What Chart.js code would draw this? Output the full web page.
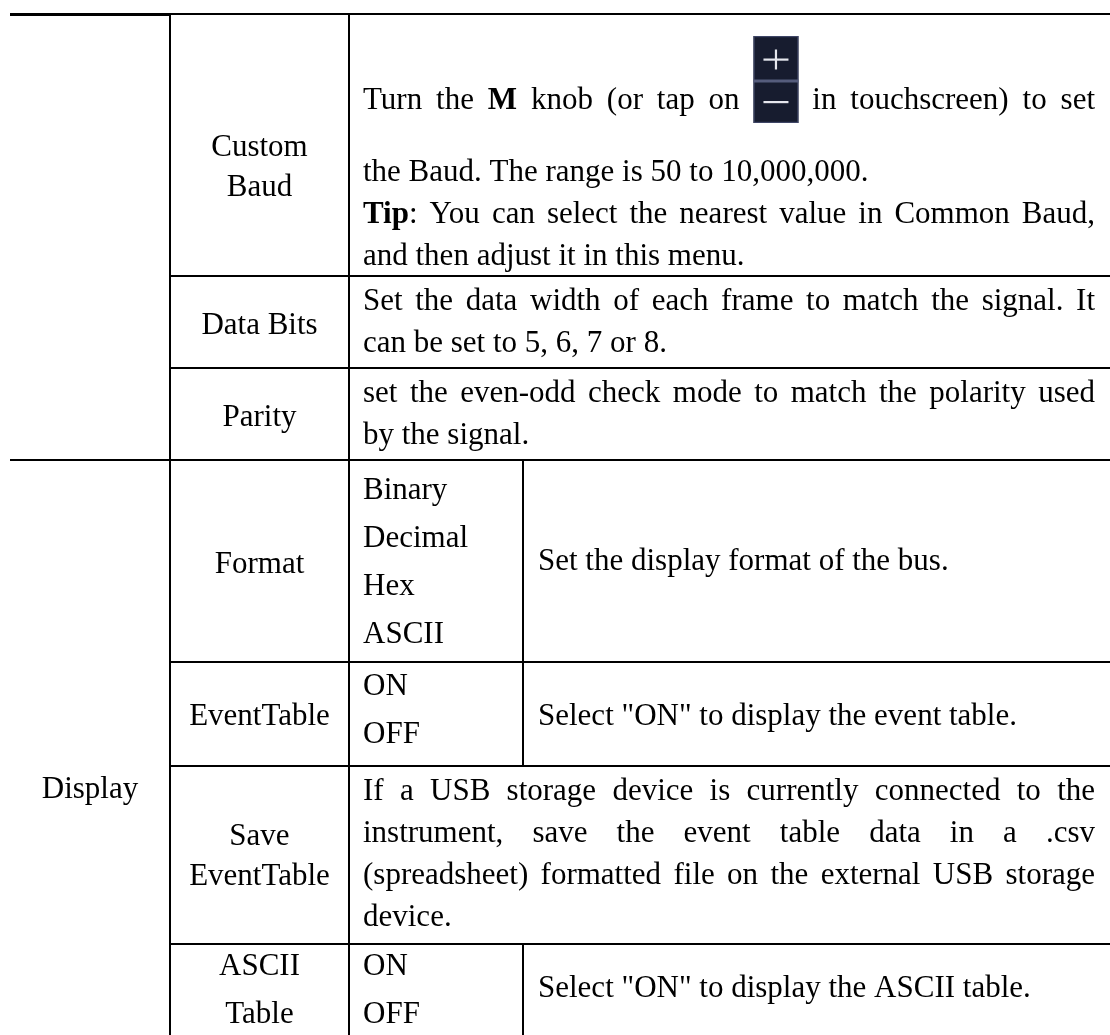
<!DOCTYPE html>
<html><head><meta charset="utf-8">
<script src="https://cdn.jsdelivr.net/npm/chart.js@4.4.1/dist/chart.umd.min.js"></script>
<style>html,body{margin:0;padding:0;background:#fff;overflow:hidden}</style>
</head><body>
<canvas id="c" width="1110" height="1035"></canvas>
<script>
// ---------- content ----------
const sectionLabels = ['Display'];
const menuLabels = [['Custom','Baud'], ['Data Bits'], ['Parity'], ['Format'], ['EventTable'], ['Save','EventTable'], ['ASCII','Table']];
const optionLists = [null, null, null, ['Binary','Decimal','Hex','ASCII'], ['ON','OFF'], null, ['ON','OFF']];
const descriptions = [
  ['Turn the **M** knob (or tap on [+-] in touchscreen) to set', 'the Baud. The range is 50 to 10,000,000.', '**Tip**: You can select the nearest value in Common Baud,', 'and then adjust it in this menu.'],
  ['Set the data width of each frame to match the signal. It', 'can be set to 5, 6, 7 or 8.'],
  ['set the even-odd check mode to match the polarity used', 'by the signal.'],
  ['Set the display format of the bus.'],
  ['Select "ON" to display the event table.'],
  ['If a USB storage device is currently connected to the', 'instrument, save the event table data in a .csv', '(spreadsheet) formatted file on the external USB storage', 'device.'],
  ['Select "ON" to display the ASCII table.']
];

// ---------- layout ----------
const W = 1110, H = 1035;
const colX = [10, 170, 349, 523, 1110];
const rowLines = [276, 368, 460, 662, 766, 944];
const topY = 14;
const justified = [[1,0,1,0],[1,0],[1,0],[0],[0],[1,1,1,0],[0]];
const descBase = [[109,181,223,265],[310,352],[402,444],[570],[725],[800,842,884,926],[997]];
const labelBase = [[156,196],[334],[426],[573],[725],[845,885],[975,1023]];
const optBase = [null,null,null,[499,547,595,643],[695,743],null,[975,1023]];
const sectionBase = [798];
const textL = 363, textR = 1095, descL4 = 538;
const ICON = {w:45, top:36, bottom:123, split:81};
const FONT = '"Liberation Serif", "Times New Roman", serif';
const SIZE = 31;

function font(b){ return (b ? 'bold ' : '') + SIZE + 'px ' + FONT; }
function parseWord(w){
  if (w === '[+-]') return {icon:true};
  const runs = []; const re = /\*\*(.+?)\*\*/g; let last = 0, m;
  while ((m = re.exec(w))) {
    if (m.index > last) runs.push({t:w.slice(last, m.index), b:false});
    runs.push({t:m[1], b:true}); last = re.lastIndex;
  }
  if (last < w.length) runs.push({t:w.slice(last), b:false});
  return {runs};
}

const tablePlugin = {
  id: 'tablePlugin',
  afterDraw(chart){
    const ctx = chart.ctx;
    const X = v => chart.scales.x.getPixelForValue(v);
    const Y = v => chart.scales.y.getPixelForValue(v);
    ctx.save();
    ctx.fillStyle = '#fff'; ctx.fillRect(0,0,W,H);

    function drawIcon(x){
      const x0 = x, x1 = x + ICON.w, y0 = Y(ICON.top), y1 = Y(ICON.bottom), ys = Y(ICON.split);
      ctx.fillStyle = '#171c2f'; ctx.fillRect(x0, y0, x1-x0, y1-y0);
      ctx.strokeStyle = '#3e4566'; ctx.lineWidth = 1.2; ctx.strokeRect(x0+0.6, y0+0.6, x1-x0-1.2, y1-y0-1.2);
      ctx.fillStyle = '#555c7c'; ctx.fillRect(x0, ys-1.5, x1-x0, 3);
      ctx.fillStyle = '#e6e7ee';
      const cx = (x0+x1)/2;
      const py = (y0+ys)/2 + 1;
      ctx.fillRect(cx-12.5, py-1, 25, 2.2);
      ctx.fillRect(cx-1.1, py-10, 2.2, 20);
      const my = (ys+y1)/2;
      ctx.fillRect(cx-12.5, my-1, 25, 2.2);
    }
    function wordWidth(w){
      if (w.icon) return ICON.w;
      let s = 0; for (const r of w.runs){ ctx.font = font(r.b); s += ctx.measureText(r.t).width; } return s;
    }
    function drawWord(w, x, y){
      if (w.icon){ drawIcon(x); return; }
      ctx.fillStyle = '#000';
      for (const r of w.runs){ ctx.font = font(r.b); ctx.fillText(r.t, x, y); x += ctx.measureText(r.t).width; }
    }
    function drawLine(str, x0, x1, y, just){
      const words = str.split(' ').map(parseWord);
      const widths = words.map(wordWidth);
      const total = widths.reduce((a,b)=>a+b, 0);
      ctx.font = font(false);
      const sp = ctx.measureText(' ').width;
      const gap = (just && words.length > 1) ? (x1 - x0 - total)/(words.length - 1) : sp;
      let x = x0;
      words.forEach((w,i)=>{ drawWord(w, x, y); x += widths[i] + gap; });
    }
    function centered(str, cx, y){
      ctx.font = font(false); ctx.fillStyle = '#000'; ctx.textAlign = 'center';
      ctx.fillText(str, cx, y); ctx.textAlign = 'left';
    }

    // grid
    ctx.strokeStyle = '#000';
    function hline(y, xa, xb, lw){ ctx.lineWidth = lw; ctx.beginPath(); ctx.moveTo(X(xa), Y(y)); ctx.lineTo(X(xb), Y(y)); ctx.stroke(); }
    function vline(x, ya, yb, lw){ ctx.lineWidth = lw; ctx.beginPath(); ctx.moveTo(X(x), Y(ya)); ctx.lineTo(X(x), Y(yb)); ctx.stroke(); }
    hline(topY + 0.5, colX[0], colX[1], 3);
    hline(topY, colX[1], colX[4], 2);
    vline(colX[1], topY, H, 2);
    vline(colX[2], topY, H, 2);
    rowLines.forEach((y, i) => hline(y, (i === 2 ? colX[0] : colX[1]), colX[4], 2));
    const rowTops = [topY].concat(rowLines);
    const rowBots = rowLines.concat([H]);
    optionLists.forEach((o, r) => { if (o) vline(colX[3], rowTops[r], rowBots[r], 2); });

    // text
    ctx.textBaseline = 'alphabetic';
    centered(sectionLabels[0], X((colX[0]+colX[1])/2), Y(sectionBase[0]));
    menuLabels.forEach((lab, r) => lab.forEach((t, k) => centered(t, X((colX[1]+colX[2])/2), Y(labelBase[r][k]))));
    optionLists.forEach((o, r) => { if (o) o.forEach((t, k) => drawLine(t, X(textL), X(textR), Y(optBase[r][k]), false)); });
    descriptions.forEach((lines, r) => {
      const x0 = optionLists[r] ? descL4 : textL;
      lines.forEach((ln, k) => drawLine(ln, X(x0), X(textR), Y(descBase[r][k]), !!justified[r][k]));
    });
    ctx.restore();
  }
};

new Chart(document.getElementById('c'), {
  type: 'scatter',
  data: { datasets: [] },
  options: {
    responsive: false, animation: false, events: [],
    layout: { padding: 0 },
    plugins: { legend: { display: false }, tooltip: { enabled: false } },
    scales: {
      x: { type: 'linear', min: 0, max: W, display: false },
      y: { type: 'linear', min: 0, max: H, reverse: true, display: false }
    }
  },
  plugins: [tablePlugin]
});
</script>
</body></html>
